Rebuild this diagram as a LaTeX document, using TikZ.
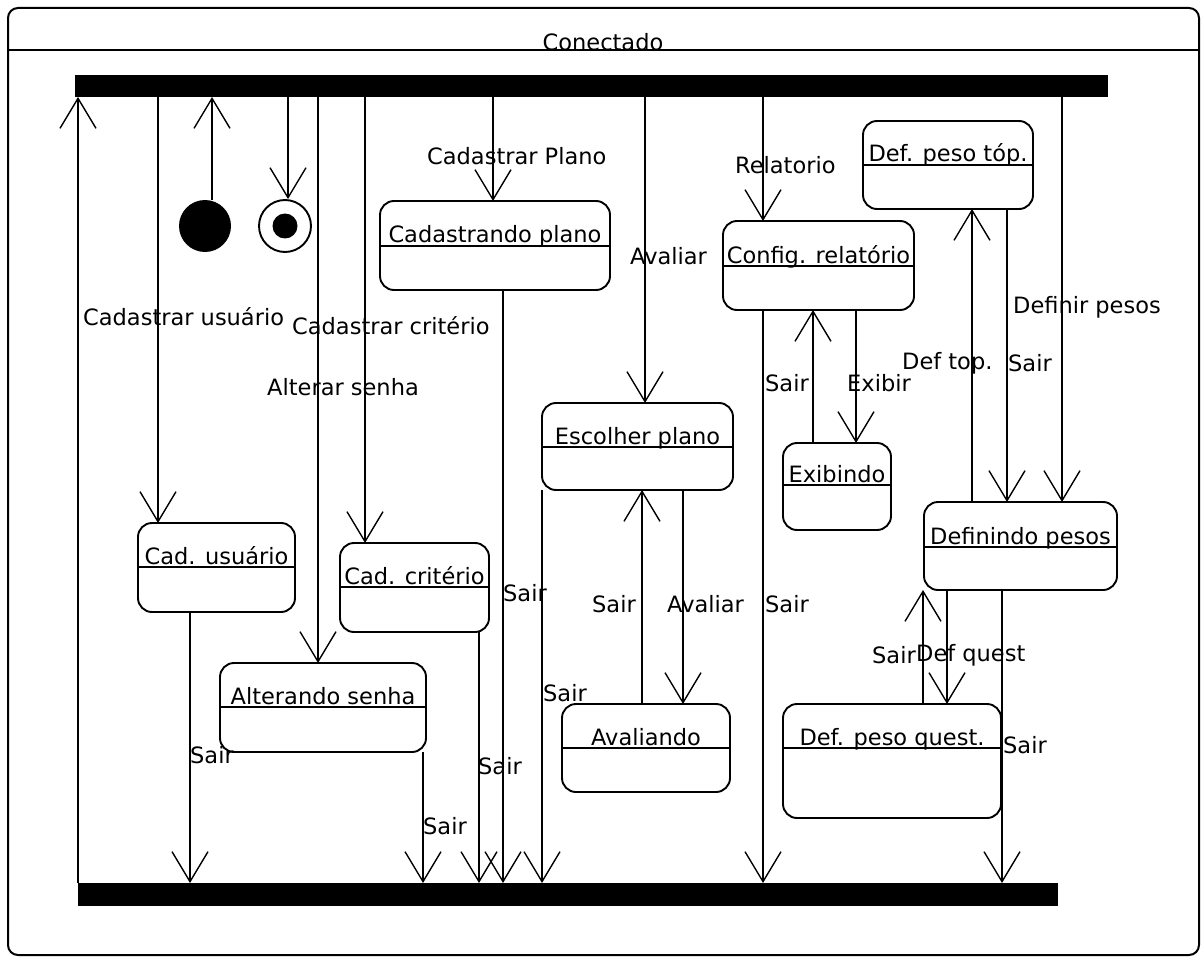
\documentclass[tikz,border=0pt]{standalone}
\usepackage{fontspec}
\setmainfont{DejaVu Sans}
\usetikzlibrary{arrows.meta,calc}

% state with a name compartment: name, x1, y1, x2, y2, divider y, title
\newcommand\umlstate[7]{%
  \node[statebox,minimum width={(#4-#2)*1pt},minimum height={(#5-#3)*1pt}]
    (#1) at ({(#2+#4)/2},{(#3+#5)/2}) {};
  \draw[wire] (#1.west |- 0,#6) -- (#1.east |- 0,#6);
  \node[sname] (#1-name) at ({(#2+#4)/2},{#6-3}) {#7};}

\begin{document}
\begin{tikzpicture}[x=1pt,y=-1pt,
  every node/.style={font=\fontsize{22.5}{26}\selectfont},
  wire/.style={line width=1.9pt},
  tr/.style={line width=1.9pt,-{Straight Barb[length=30pt,width=36pt,line width=1.4pt]}},
  bar/.style={fill=black,draw=none,inner sep=0pt,outer sep=0pt},
  statebox/.style={draw,line width=1.9pt,rounded corners=14pt,inner sep=0pt,outer sep=0pt,fill=white},
  lbl/.style={anchor=west,inner sep=0pt},
  sname/.style={anchor=base,inner sep=0pt}]

\useasboundingbox (0,0) rectangle (1202,960);
\fill[white] (0,0) rectangle (1202,960);

% composite state frame
\node[draw,line width=2pt,rounded corners=10pt,inner sep=0pt,outer sep=0pt,
      minimum width=1191pt,minimum height=947pt] (conectado) at (603.5,481.5) {};
\draw[wire] (conectado.west |- 0,50) -- (conectado.east |- 0,50);
\node (title) at (603,42) {Conectado};

% fork and join bars
\node[bar,minimum width=1033pt,minimum height=22pt] (fork) at (591.5,86) {};
\node[bar,minimum width=980pt,minimum height=23pt] (join) at (568,894.5) {};

% initial and final states
\node[circle,fill=black,minimum size=52pt,inner sep=0pt] (init) at (205,226) {};
\node[circle,draw,line width=1.9pt,fill=white,minimum size=52pt,inner sep=0pt] (final) at (285,226) {};
\node[circle,fill=black,minimum size=25pt,inner sep=0pt] (finaldot) at (285,226) {};

% states
\umlstate{cplano}{380}{201}{610}{290}{246}{Cadastrando plano}
\umlstate{crel}{723}{221}{914}{310}{266}{Config. relatório}
\umlstate{dtop}{863}{121}{1033}{209}{165}{Def. peso tóp.}
\umlstate{esc}{542}{403}{733}{490}{447}{Escolher plano}
\umlstate{exib}{783}{443}{891}{530}{485}{Exibindo}
\umlstate{dpes}{924}{502}{1117}{590}{547}{Definindo pesos}
\umlstate{cusu}{138}{523}{295}{612}{567}{Cad. usuário}
\umlstate{ccrit}{340}{543}{489}{632}{587}{Cad. critério}
\umlstate{alt}{220}{663}{426}{752}{707}{Alterando senha}
\umlstate{aval}{562}{704}{730}{792}{748}{Avaliando}
\umlstate{dquest}{783}{704}{1001}{818}{748}{Def. peso quest.}

% transitions leaving the fork
\draw[tr] (join.north -| 78,0) -- (fork.south -| 78,0);
\draw[tr] (init.north -| 212,0) -- (fork.south -| 212,0);
\draw[tr] (fork.south -| 288,0) -- (final.north -| 288,0);
\draw[tr] (fork.south -| 158,0) -- (cusu.north -| 158,0);
\draw[tr] (fork.south -| 318,0) -- (alt.north -| 318,0);
\draw[tr] (fork.south -| 365,0) -- (ccrit.north -| 365,0);
\draw[tr] (fork.south -| 493,0) -- (cplano.north -| 493,0);
\draw[tr] (fork.south -| 645,0) -- (esc.north -| 645,0);
\draw[tr] (fork.south -| 763,0) -- (crel.north -| 763,0);
\draw[tr] (fork.south -| 1062,0) -- (dpes.north -| 1062,0);

% transitions between states
\draw[tr] (aval.north -| 642,0) -- (esc.south -| 642,0);
\draw[tr] (esc.south -| 683,0) -- (aval.north -| 683,0);
\draw[tr] (exib.north -| 813,0) -- (crel.south -| 813,0);
\draw[tr] (crel.south -| 856,0) -- (exib.north -| 856,0);
\draw[tr] (dpes.north -| 972,0) -- (dtop.south -| 972,0);
\draw[tr] (dtop.south -| 1007,0) -- (dpes.north -| 1007,0);
\draw[tr] (dquest.north -| 923,0) -- (dpes.south -| 923,0);
\draw[tr] (dpes.south -| 947,0) -- (dquest.north -| 947,0);

% transitions into the join
\draw[tr] (cusu.south -| 190,0) -- (join.north -| 190,0);
\draw[tr] (alt.south -| 423,0) -- (join.north -| 423,0);
\draw[tr] (ccrit.south -| 479,0) -- (join.north -| 479,0);
\draw[tr] (cplano.south -| 503,0) -- (join.north -| 503,0);
\draw[tr] (esc.south -| 542,0) -- (join.north -| 542,0);
\draw[tr] (crel.south -| 763,0) -- (join.north -| 763,0);
\draw[tr] (dpes.south -| 1002,0) -- (join.north -| 1002,0);

% transition labels
\node[lbl] (l1) at (83,317) {Cadastrar usuário};
\node[lbl] (l2) at (292,326) {Cadastrar critério};
\node[lbl] (l3) at (267,387) {Alterar senha};
\node[lbl] (l4) at (427,156) {Cadastrar Plano};
\node[lbl] (l5) at (630,256) {Avaliar};
\node[lbl] (l6) at (735,165) {Relatorio};
\node[lbl] (l7) at (1013,307) {Definir pesos};
\node[lbl] (l8) at (902,363) {Def top.};
\node[lbl] (l9) at (1008,363) {Sair};
\node[lbl] (l10) at (765,383) {Sair};
\node[lbl] (l11) at (847,383) {Exibir};
\node[lbl] (l12) at (503,593) {Sair};
\node[lbl] (l13) at (592,604) {Sair};
\node[lbl] (l14) at (667,604) {Avaliar};
\node[lbl] (l15) at (765,604) {Sair};
\node[lbl] (l16) at (872,655) {Sair};
\node[lbl] (l17) at (916,655) {Def quest};
\node[lbl] (l18) at (543,693) {Sair};
\node[lbl] (l19) at (190,755) {Sair};
\node[lbl] (l20) at (478,766) {Sair};
\node[lbl] (l21) at (423,826) {Sair};
\node[lbl] (l22) at (1003,745) {Sair};
\end{tikzpicture}
\end{document}
